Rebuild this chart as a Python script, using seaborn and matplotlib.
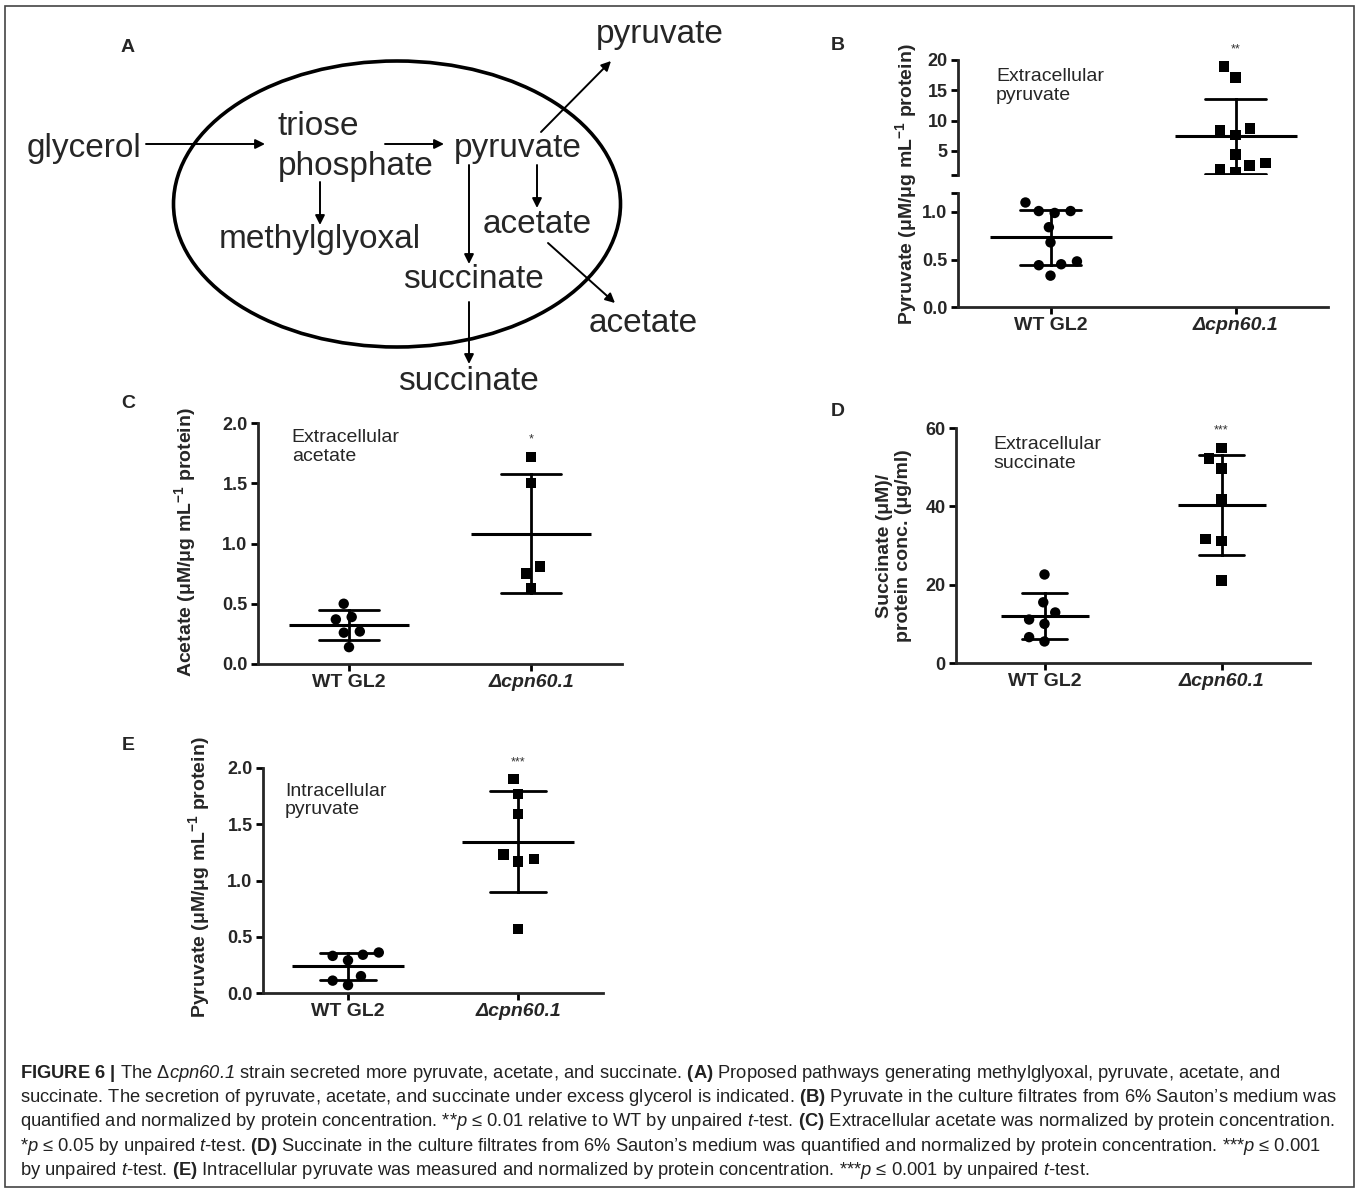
import numpy as np
import pandas as pd
import matplotlib
import matplotlib.pyplot as plt
from matplotlib.patches import Ellipse, Rectangle
import seaborn as sns

matplotlib.use('agg')

sns.set_style('ticks')
plt.rcParams['font.family'] = ['Liberation Sans', 'DejaVu Sans']
plt.rcParams['mathtext.fontset'] = 'custom'
# rm is only used for italic words in the caption (digits stay italic this way)
plt.rcParams['mathtext.rm'] = 'Liberation Sans:italic'
plt.rcParams['mathtext.it'] = 'Liberation Sans:italic'
plt.rcParams['mathtext.bf'] = 'Liberation Sans:bold'

groups = ['WT GL2', 'Δcpn60.1']

# (B) extracellular pyruvate
pyr_ext_wt = [1.01, 0.99, 1.01, 1.10, 0.84, 0.68, 0.45, 0.44, 0.48, 0.33]
pyr_ext_mut = [18.9, 17.1, 8.7, 8.4, 7.6, 4.4, 2.6, 3.0, 2.0, 1.4]
# (C) extracellular acetate
ace_wt = [0.50, 0.39, 0.37, 0.27, 0.26, 0.14]
ace_mut = [1.72, 1.50, 0.81, 0.75, 0.63]
# (D) extracellular succinate
suc_wt = [22.6, 15.5, 12.9, 11.1, 10.0, 6.6, 5.5]
suc_mut = [54.9, 52.2, 49.7, 41.7, 31.7, 31.2, 21.1]
# (E) intracellular pyruvate
pyr_int_wt = [0.36, 0.33, 0.34, 0.29, 0.15, 0.11, 0.07]
pyr_int_mut = [1.90, 1.77, 1.59, 1.23, 1.19, 1.17, 0.57]

ylab_pyr = r'Pyruvate (μM/μg mL$^{\mathbf{-1}}$ protein)'

W, H = 1358, 1190
fig = plt.figure(figsize=(W / 100, H / 100), dpi=100)


def px_axes(x0, y0, x1, y1):
    # axes placed by pixel box of the reference
    return fig.add_axes([x0 / W, 1 - y1 / H, (x1 - x0) / W, (y1 - y0) / H])


def make_df(wt, mut):
    return pd.DataFrame({'group': [groups[0]] * len(wt) + [groups[1]] * len(mut),
                         'value': wt + mut})


def draw_groups(ax, df, mean_size, cap, which=(0, 1)):
    markers = ['o', 's']
    for i in which:
        sub = df[df.group == groups[i]]
        sns.pointplot(data=sub, x='group', y='value', order=groups, errorbar='sd',
                      capsize=cap, color='black', linestyle='none', marker='_',
                      markersize=mean_size, markeredgewidth=2.2,
                      err_kws={'linewidth': 2.0}, ax=ax)
        # invisible wide edge only loosens the swarm spacing
        sns.swarmplot(data=sub, x='group', y='value', order=groups,
                      marker=markers[i], color='black', size=7.5,
                      linewidth=3.5, edgecolor='none', ax=ax)
    ax.set_xlim(-0.5, 1.5)
    ax.set_xlabel('')
    ax.set_ylabel('')


def style_axes(ax, yticks, ylabels, bottom=True):
    ax.spines['top'].set_visible(False)
    ax.spines['right'].set_visible(False)
    ax.spines['left'].set_linewidth(2)
    ax.spines['bottom'].set_linewidth(2)
    ax.tick_params(width=2, length=5, color='black', pad=2.5)
    ax.set_yticks(yticks)
    ax.set_yticklabels(ylabels, fontsize=13, fontweight='bold')
    if bottom:
        ax.set_xticks([0, 1])
        ax.set_xticklabels(groups, fontsize=14, fontweight='bold')
        ax.get_xticklabels()[1].set_fontstyle('italic')
    else:
        ax.spines['bottom'].set_visible(False)
        ax.tick_params(axis='x', bottom=False, labelbottom=False)


def add_note(ax, text, x, y):
    ax.text(x, y, text, transform=ax.transAxes, ha='left', va='top',
            fontsize=14, linespacing=1.12)


def add_stars(ax, stars, top):
    ax.annotate(stars, xy=(1, top), xytext=(0, 8), textcoords='offset points',
                ha='center', va='bottom', fontsize=9, color='#333333',
                annotation_clip=False)


# ---------------- panel A (schematic) + frame + caption ----------------
ax_a = fig.add_axes([0, 0, 1, 1])
ax_a.set_xlim(0, W)
ax_a.set_ylim(H, 0)
ax_a.axis('off')

ax_a.add_patch(Rectangle((5, 6), 1349, 1181, fill=False, lw=1.2, edgecolor='#444444'))
ax_a.add_patch(Ellipse((397, 204), 447, 286, fill=False, lw=2.6, edgecolor='black'))

words = [('glycerol', 27, 157), ('triose', 278, 135), ('phosphate', 278, 175),
         ('pyruvate', 454, 157), ('methylglyoxal', 219, 248), ('acetate', 483, 233),
         ('succinate', 403, 288), ('succinate', 398, 390), ('acetate', 589, 332),
         ('pyruvate', 596, 43)]
for w, x, y in words:
    ax_a.text(x, y, w, fontsize=24, ha='left', va='baseline')

arrows = [((146, 144), (265, 144)), ((385, 144), (444, 144)), ((320, 182), (320, 225)),
          ((469, 165), (469, 264)), ((537, 165), (537, 208)), ((469, 302), (469, 364)),
          ((548, 243), (615, 303)), ((541, 132), (611, 61))]
for (x0, y0), (x1, y1) in arrows:
    ax_a.annotate('', xy=(x1, y1), xytext=(x0, y0),
                  arrowprops=dict(arrowstyle='-|>', lw=1.4, color='black',
                                  mutation_scale=14, shrinkA=0, shrinkB=0))

for letter, x, y in [('A', 128, 47), ('B', 838, 45), ('C', 128, 403),
                     ('D', 838, 412), ('E', 128, 745)]:
    ax_a.text(x, y, letter, fontsize=14, fontweight='bold', ha='center', va='center')

caption = [
    r"$\mathbf{FIGURE\ 6\ |}$ The Δ$\mathrm{cpn60.1}$ strain secreted more pyruvate, acetate, and succinate. $\mathbf{(A)}$ Proposed pathways generating methylglyoxal, pyruvate, acetate, and",
    r"succinate. The secretion of pyruvate, acetate, and succinate under excess glycerol is indicated. $\mathbf{(B)}$ Pyruvate in the culture filtrates from 6% Sauton’s medium was",
    r"quantified and normalized by protein concentration. **$\mathrm{p}$ ≤ 0.01 relative to WT by unpaired $\mathrm{t}$-test. $\mathbf{(C)}$ Extracellular acetate was normalized by protein concentration.",
    r"*$\mathrm{p}$ ≤ 0.05 by unpaired $\mathrm{t}$-test. $\mathbf{(D)}$ Succinate in the culture filtrates from 6% Sauton’s medium was quantified and normalized by protein concentration. ***$\mathrm{p}$ ≤ 0.001",
    r"by unpaired $\mathrm{t}$-test. $\mathbf{(E)}$ Intracellular pyruvate was measured and normalized by protein concentration. ***$\mathrm{p}$ ≤ 0.001 by unpaired $\mathrm{t}$-test.",
]
for i, line in enumerate(caption):
    ax_a.text(20, 1078 + i * 24.2, line, fontsize=13.2, ha='left', va='baseline',
              color='#222222')

# ---------------- panel B (broken axis) ----------------
df_b = make_df(pyr_ext_wt, pyr_ext_mut)
ax_b_top = px_axes(958, 60, 1328, 175)
ax_b_bot = px_axes(958, 193, 1328, 307)
draw_groups(ax_b_top, df_b, 88, 0.33, which=(1,))
draw_groups(ax_b_bot, df_b, 88, 0.33, which=(0,))
ax_b_top.set_ylim(1.0, 20)
ax_b_bot.set_ylim(0, 1.2)
style_axes(ax_b_top, [1.0, 5, 10, 15, 20], ['', '5', '10', '15', '20'], bottom=False)
style_axes(ax_b_bot, [0, 0.5, 1.0, 1.2], ['0.0', '0.5', '1.0', ''])
add_note(ax_b_top, 'Extracellular\npyruvate', 0.103, 0.93)
add_stars(ax_b_top, '**', max(pyr_ext_mut))
fig.text(906 / W, 1 - 184 / H, ylab_pyr, rotation=90, ha='center', va='center',
         fontsize=14, fontweight='bold')

# ---------------- panel C ----------------
ax_c = px_axes(258, 423, 622, 664)
draw_groups(ax_c, make_df(ace_wt, ace_mut), 87, 0.33)
ax_c.set_ylim(0, 2.0)
style_axes(ax_c, [0, 0.5, 1.0, 1.5, 2.0], ['0.0', '0.5', '1.0', '1.5', '2.0'])
ax_c.set_ylabel(ylab_pyr.replace('Pyruvate', 'Acetate'), fontsize=14, fontweight='bold')
ax_c.yaxis.set_label_coords(-0.165, 0.506)
add_note(ax_c, 'Extracellular\nacetate', 0.093, 0.975)
add_stars(ax_c, '*', max(ace_mut))

# ---------------- panel D ----------------
ax_d = px_axes(956, 428, 1310, 663)
draw_groups(ax_d, make_df(suc_wt, suc_mut), 63, 0.25)
ax_d.set_ylim(0, 60)
style_axes(ax_d, [0, 20, 40, 60], ['0', '20', '40', '60'])
ax_d.set_ylabel('Succinate (μM)/\nprotein conc. (μg/ml)', fontsize=14, fontweight='bold')
ax_d.yaxis.set_label_coords(-0.124, 0.5)
add_note(ax_d, 'Extracellular\nsuccinate', 0.105, 0.965)
add_stars(ax_d, '***', max(suc_mut))

# ---------------- panel E ----------------
ax_e = px_axes(263, 768, 603, 993)
draw_groups(ax_e, make_df(pyr_int_wt, pyr_int_mut), 81, 0.33)
ax_e.set_ylim(0, 2.0)
style_axes(ax_e, [0, 0.5, 1.0, 1.5, 2.0], ['0.0', '0.5', '1.0', '1.5', '2.0'])
ax_e.set_ylabel(ylab_pyr, fontsize=14, fontweight='bold')
ax_e.yaxis.set_label_coords(-0.15, 0.516)
add_note(ax_e, 'Intracellular\npyruvate', 0.065, 0.935)
add_stars(ax_e, '***', max(pyr_int_mut))

fig.savefig('out.png', dpi=100)
plt.close()
